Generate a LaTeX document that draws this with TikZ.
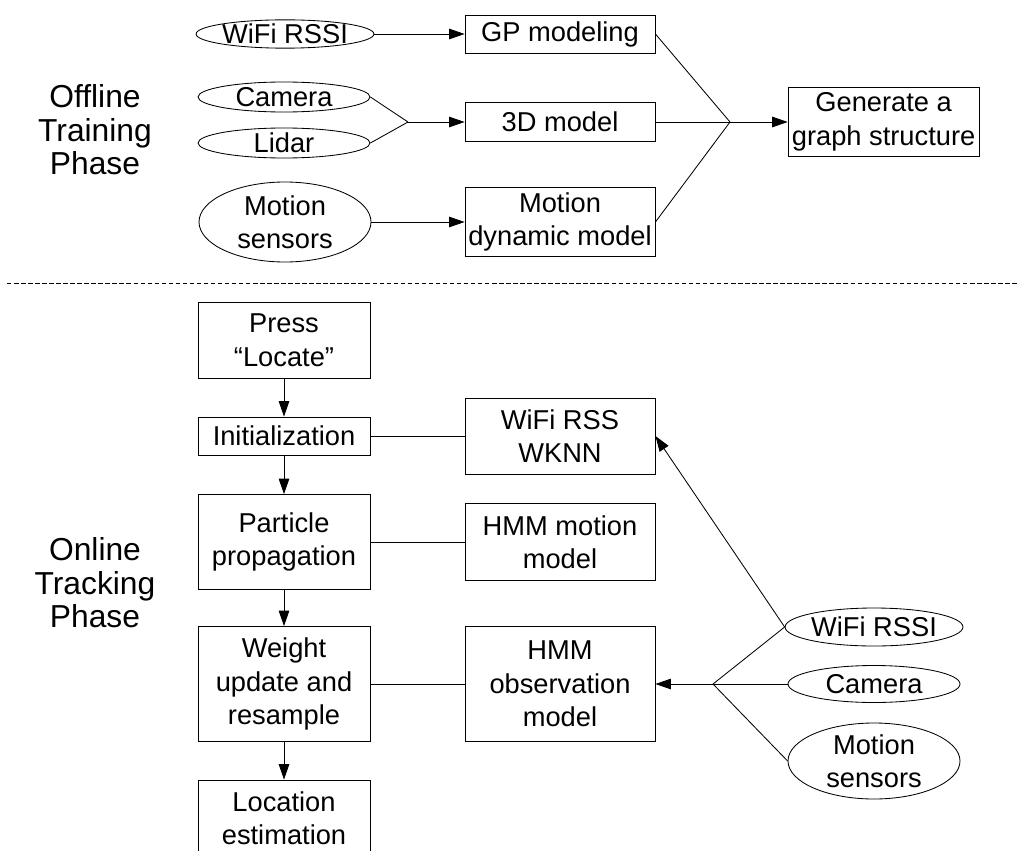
\documentclass[tikz,border=0pt]{standalone}
\usepackage{fontspec}
\setmainfont{Liberation Sans}
\usetikzlibrary{arrows.meta,shapes.geometric}

\begin{document}
\begin{tikzpicture}[font=\fontsize{19.4}{23.8}\selectfont,line width=0.6pt,
  box/.style={draw,rectangle,align=center,inner sep=0pt},
  sensor/.style={draw,ellipse,align=center,inner sep=0pt,minimum width=4.3cm},
  phase/.style={align=center,font=\fontsize{22.6}{23.8}\selectfont},
  arr/.style={-{Triangle[length=11pt,width=7.5pt]}}]
  \useasboundingbox (0,0) rectangle (25.525,-21.25);
  % offline part
  \node[phase] (offline) at (2.375,-3.25) {Offline\\Training\\Phase};
  \node[sensor,minimum height=0.7cm] (wifiA) at (7.125,-0.85) {WiFi RSSI};
  \node[sensor,minimum height=0.75cm] (camA) at (7.1,-2.425) {Camera};
  \node[sensor,minimum height=0.75cm] (lidA) at (7.1,-3.575) {Lidar};
  \node[sensor,minimum height=2cm] (motA) at (7.125,-5.55) {Motion\\sensors};
  \node[box,minimum width=4.75cm,minimum height=0.95cm] (gp) at (14,-0.85) {GP modeling};
  \node[box,minimum width=4.75cm,minimum height=0.975cm] (tdm) at (14,-3.05) {3D model};
  \node[box,minimum width=4.75cm,minimum height=1.725cm] (mdm) at (14,-5.55) {Motion\\dynamic model};
  \node[box,minimum width=4.775cm,minimum height=1.725cm] (gen) at (22.09,-3.05) {Generate a\\graph structure};
  \coordinate (j1) at (10.2,-3.05);
  \coordinate (j2) at (18.25,-3.05);
  \draw[arr] (wifiA.east) -- (gp.west);
  \draw (camA.east) -- (j1);
  \draw (lidA.east) -- (j1);
  \draw[arr] (j1) -- (tdm.west);
  \draw[arr] (motA.east) -- (mdm.west);
  \draw (gp.east) -- (j2);
  \draw (tdm.east) -- (j2);
  \draw (mdm.east) -- (j2);
  \draw[arr] (j2) -- (gen.west);
  \draw[dashed,dash pattern=on 3.2pt off 1.8pt,line width=0.5pt] (0.175,-7.075) -- (25.45,-7.075);
  % online part
  \node[phase] (online) at (2.375,-14.575) {Online\\Tracking\\Phase};
  \node[box,minimum width=4.3cm,minimum height=1.9cm] (press) at (7.1,-8.51) {Press\\“Locate”};
  \node[box,minimum width=4.3cm,minimum height=0.95cm] (init) at (7.1,-10.9) {Initialization};
  \node[box,minimum width=4.3cm,minimum height=2.375cm] (part) at (7.1,-13.55) {Particle\\propagation};
  \node[box,minimum width=4.3cm,minimum height=2.875cm] (weight) at (7.1,-17.1) {Weight\\update and\\resample};
  \node[box,minimum width=4.3cm,minimum height=1.9cm] (loc) at (7.1,-20.45) {Location\\estimation};
  \node[box,minimum width=4.75cm,minimum height=1.9cm] (wknn) at (14,-10.9) {WiFi RSS\\WKNN};
  \node[box,minimum width=4.75cm,minimum height=1.925cm] (hmmm) at (14,-13.55) {HMM motion\\model};
  \node[box,minimum width=4.75cm,minimum height=2.875cm] (hmmo) at (14,-17.1) {HMM\\observation\\model};
  \node[sensor,minimum height=0.95cm] (wifiB) at (21.85,-15.675) {WiFi RSSI};
  \node[sensor,minimum height=0.925cm] (camB) at (21.85,-17.1) {Camera};
  \node[sensor,minimum height=1.9cm] (motB) at (21.85,-19.025) {Motion\\sensors};
  \coordinate (j3) at (17.825,-17.1);
  \draw[arr] (press) -- (init);
  \draw[arr] (init) -- (part);
  \draw[arr] (part) -- (weight);
  \draw[arr] (weight) -- (loc);
  \draw (init) -- (wknn);
  \draw (part) -- (hmmm);
  \draw (weight) -- (hmmo);
  \draw[arr] (wifiB.west) -- (wknn.east);
  \draw (wifiB.west) -- (j3);
  \draw (camB.west) -- (j3);
  \draw (motB.west) -- (j3);
  \draw[arr] (j3) -- (hmmo.east);
\end{tikzpicture}
\end{document}
